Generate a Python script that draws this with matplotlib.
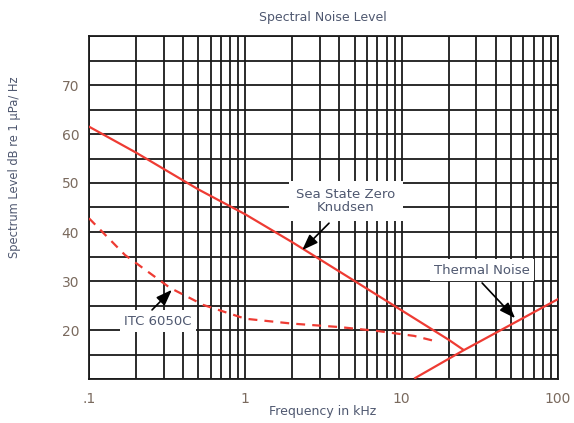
import matplotlib.pyplot as plt
from matplotlib.ticker import FixedLocator, NullFormatter

# values
knudsen_khz = [0.1, 0.2, 0.5, 1, 2, 5, 10, 20, 24.7]
knudsen_db = [61.5, 56.2, 48.7, 43.6, 37.9, 30.0, 24.0, 18.0, 16.0]

itc_khz = [0.1, 0.17, 0.33, 0.54, 1.0, 2.0, 4.0, 7.0, 12.0, 17.0]
itc_db = [42.8, 35.3, 28.6, 25.1, 22.3, 21.3, 20.6, 19.8, 18.8, 17.6]

thermal_khz = [12.2, 24.7, 100]
thermal_db = [10.2, 15.8, 26.3]

x_ticks = [0.1, 1, 10, 100]
x_ticklabels = ['.1', '1', '10', '100']
y_grid = list(range(10, 85, 5))
y_ticklabels = ['20', '30', '40', '50', '60', '70']

red = '#ee3b33'
txt = '#4f5870'

fig = plt.figure(figsize=(5.74, 4.23), dpi=100)
ax = fig.add_axes([89 / 574, 1 - 379 / 423, 469 / 574, 343 / 423])

ax.set_xscale('log')
ax.set_xlim(0.1, 100)
ax.set_ylim(10, 80)

ax.plot(knudsen_khz, knudsen_db, color=red, lw=1.6, zorder=3)
ax.plot(itc_khz, itc_db, color=red, lw=1.6, linestyle=(0, (4, 3.2)), zorder=3)
ax.plot(thermal_khz, thermal_db, color=red, lw=1.6, zorder=3)

# grid: all decades + minor log lines, every 5 dB
ax.xaxis.set_major_locator(FixedLocator(x_ticks))
ax.set_xticklabels(x_ticklabels)
minor = [m * d for d in (0.1, 1, 10) for m in range(2, 10)]
ax.xaxis.set_minor_locator(FixedLocator(minor))
ax.xaxis.set_minor_formatter(NullFormatter())
ax.yaxis.set_major_locator(FixedLocator([int(v) for v in y_ticklabels]))
ax.yaxis.set_minor_locator(FixedLocator(y_grid))
ax.grid(True, which='both', color='#1a1a1a', lw=1.3, zorder=1)
ax.tick_params(which='both', length=0, labelsize=10, labelcolor='#7a6a5e')
ax.tick_params(axis='x', pad=9)
ax.tick_params(axis='y', pad=7)
for s in ax.spines.values():
    s.set_color('#1a1a1a')
    s.set_linewidth(1.3)

box = dict(facecolor='white', edgecolor='none', pad=3)
arrow = dict(arrowstyle='-|>,head_length=0.6,head_width=0.22', color='black',
             lw=1.2, mutation_scale=16, shrinkA=0, shrinkB=0)

ax.text(4.41, 46.3, 'Sea State Zero\nKnudsen', ha='center', va='center',
        fontsize=9.5, color=txt, linespacing=0.95, bbox=dict(box, pad=5), zorder=4)
ax.annotate('', xy=(2.31, 36.3), xytext=(3.43, 41.8), arrowprops=arrow, zorder=5)

ax.text(0.276, 21.8, 'ITC 6050C', ha='center', va='center', fontsize=9.5,
        color=txt, bbox=box, zorder=4)
ax.annotate('', xy=(0.339, 28.2), xytext=(0.253, 24.1), arrowprops=arrow, zorder=5)

ax.text(32.7, 32.2, 'Thermal Noise', ha='center', va='center', fontsize=9.5,
        color=txt, bbox=box, zorder=4)
ax.annotate('', xy=(53.2, 22.4), xytext=(32.7, 29.6), arrowprops=arrow, zorder=5)

fig.text(323 / 574, 1 - 17 / 423, 'Spectral Noise Level', ha='center', va='center',
         fontsize=9, color=txt)
fig.text(323 / 574, 1 - 411 / 423, 'Frequency in kHz', ha='center', va='center',
         fontsize=9, color=txt)
fig.text(15 / 574, 1 - 167 / 423, 'Spectrum Level dB re 1 μPa/ Hz', ha='center',
         va='center', rotation=90, fontsize=8.3, color=txt)

fig.savefig('out.png', dpi=100)
